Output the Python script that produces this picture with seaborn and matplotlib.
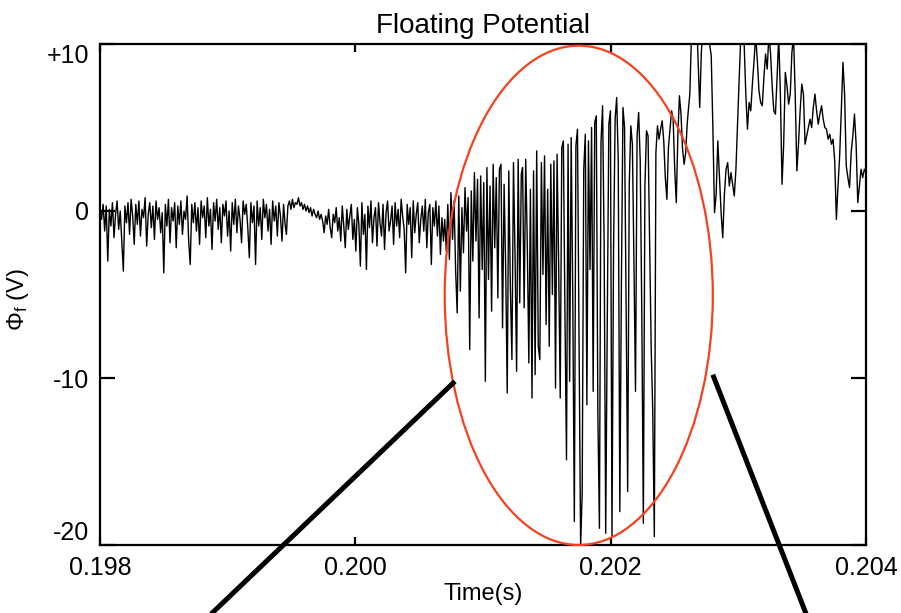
import numpy as np
import pandas as pd
import matplotlib
matplotlib.use("Agg")
import matplotlib.pyplot as plt
from matplotlib.patches import Ellipse
import seaborn as sns

# ---------------- data ----------------
# segment time bounds (s)
seg1_span = (0.19800, 0.19945)
seg2_span = (0.19946, 0.20069)
seg3_span = (0.20070, 0.20130)
seg4_span = (0.20131, 0.20260)
seg5_span = (0.20262, 0.20400)

# floating potential (V), quiet noisy phase
seg1 = [0.2, -0.5, 0.4, -1.2, 0.3, -3.0, 0.1, -0.9, 0.5, -1.6,
        -0.2, 0.6, -1.1, 0.0, -1.8, -3.6, 0.3, -0.7, 0.5, -1.4,
        0.7, -0.3, -2.0, 0.4, -0.8, 0.6, -1.5, 0.1, -0.4, 0.8,
        -2.1, -0.2, 0.5, -1.0, 0.3, -1.7, 0.6, -0.5, 0.2, -1.3,
        -0.1, -3.7, 0.4, -0.9, 0.7, -1.9, 0.2, -0.6, 0.5, -2.2,
        0.3, -0.8, 0.6, -1.4, 0.0, -0.5, 0.9, -1.8, -3.2, 0.4,
        -0.7, 0.5, -1.2, 0.2, -2.0, 0.6, -0.4, 0.3, -1.6, 0.8,
        -0.9, 0.1, -2.3, 0.5, -0.6, 0.7, -1.1, 0.2, -1.9, 0.4,
        -0.3, 0.6, -1.5, 0.0, -2.4, 0.5, -0.8, 0.7, -1.3, 0.3,
        -0.5, -1.9, 0.6, -0.2, 0.4, -1.0, -2.8, 0.5, -0.7, 0.3,
        -3.2, 0.6, -0.9, 0.2, -1.7, 0.7, -0.4, 0.4, -1.2, 0.1,
        -2.0, 0.6, -0.6, 0.3, -1.5, 0.5, -0.3, -1.8, 0.4, -0.8]

seg2 = [-1.4, 0.3, 0.6, 0.1, 0.7, 0.2, 0.5, 0.4, 0.8, 0.3,
        0.5, 0.1, 0.4, 0.0, 0.3, -0.1, 0.2, -0.3, 0.1, -0.2,
        -0.4, 0.0, -0.5, -0.2, -0.6, -1.3, -0.3, -0.8, 0.1, -1.0,
        -1.6, -0.2, -0.7, 0.2, -1.2, -0.4, -1.8, 0.3, -0.9, -2.2,
        0.1, -1.1, -0.3, 0.4, -1.7, -0.5, -2.4, 0.2, -0.8, -3.3,
        0.5, -1.4, -0.2, -3.5, 0.3, -1.0, 0.6, -1.9, -0.4, 0.2,
        -2.1, 0.5, -0.7, -1.5, 0.4, -2.3, -0.1, 0.6, -1.2, -0.6,
        0.3, -2.0, 0.5, -0.9, 0.1, -1.6, 0.7, -0.3, -1.1, -3.7,
        0.4, -0.8, 0.2, -2.8, 0.6, -1.3, -0.2, 0.5, -1.9, -0.5,
        0.3, -1.2, 0.7, -2.2, -0.1, 0.4, -3.2, 0.2, -0.9, 0.6,
        -1.5, 0.3, -2.6, -0.4, -1.8]

# onset of the large fluctuations
seg3 = [-0.5, -2.4, 0.4, -2.9, 1.1, -1.7, 0.6, -3.6, -6.1, 0.9,
        -4.8, 0.2, -2.5, 1.4, -1.2, 0.8, -8.3, 1.2, -3.0, 2.3,
        -1.8, 1.9, -6.4, 2.1, -3.5, 1.7, -10.2, 2.6, -4.1, 1.5,
        -6.0, 2.8, -2.2, 2.0, -5.2, 2.5, 2.8, -7.0, 1.6, -3.4,
        -10.9, 2.4, -4.6, -8.9, 2.9, -2.7, -9.6, 3.1, -5.5, 2.2]

# strong oscillations reaching -20 V
seg4 = [2.6, -5.8, 3.1, -2.0, -9.1, 1.3, -11.2, 2.4, -9.8, 3.6,
        -8.1, -8.9, 2.9, -3.8, 3.3, -6.8, 1.3, -8.1, 2.8, -5.0,
        3.0, -10.6, 3.4, -3.2, -11.2, 3.8, 4.2, -6.0, -14.9, 4.0,
        -10.2, 4.4, -5.2, -18.6, 3.9, 4.9, -8.0, -20.1, -16.9, 2.5,
        4.6, -11.6, 4.2, -3.5, 5.0, -10.8, 5.3, 5.7, -12.2, -19.0,
        4.1, 6.3, -2.0, -19.3, -6.6, 5.2, 6.0, -19.5, -2.3, 5.5,
        6.8, 3.0, -18.0, -4.5, 6.2, 5.0, -5.5, -16.8, 1.5, 5.1,
        4.0, -3.0, -10.8, 4.5, 5.9, 3.0, -6.0, -18.7, 1.5, 4.8,
        4.5, -2.0, -8.2, -12.0, -19.5, 3.5, 5.1, 4.3, 4.9, 5.4,
        4.2, 2.0, 0.7, 3.8, 4.9, 6.0, 5.5, 2.5, 0.5, 4.5,
        6.9, 5.8, 3.7, 2.8, 3.5, 5.3]

# positive, partly saturated phase
seg5 = [7.0, 10.5, 12.0, 11.0, 12.0, 9.0, 6.2, 9.5, 11.0, 12.0,
        10.5, 11.0, 10.0, 9.3, 5.0, -0.1, 1.0, 4.2, 2.0, -0.1,
        -1.6, 1.0, 2.5, 2.9, 1.5, 2.3, 1.6, 0.9, 2.5, 5.3,
        8.0, 10.5, 11.0, 10.0, 7.0, 4.9, 6.5, 6.0, 7.6, 9.0,
        10.5, 9.0, 7.2, 6.5, 6.3, 8.0, 9.4, 8.5, 10.5, 9.5,
        7.5, 6.0, 5.8, 8.0, 10.5, 7.0, 1.6, 4.0, 8.3, 7.5,
        6.4, 7.0, 9.5, 10.5, 7.0, 2.4, 4.0, 6.0, 7.6, 7.0,
        4.0, 4.5, 5.0, 5.5, 5.0, 6.2, 7.0, 6.0, 5.2, 5.8,
        6.3, 5.5, 5.0, 4.9, 4.3, 4.6, 4.0, 4.3, 3.0, -0.5,
        1.5, 3.3, 6.0, 8.9, 7.0, 2.7, 2.0, 1.4, 3.5, 4.5,
        5.8, 4.0, 0.5, 1.5, 2.5, 2.0, 2.5, 2.3]

x_ticks = [0.198, 0.200, 0.202, 0.204]
x_ticklabels = ["0.198", "0.200", "0.202", "0.204"]
y_ticks = [10, 0, -10, -20]
y_ticklabels = ["+10", "0", "-10", "-20"]

# highlighted region (ellipse) and zoom guide lines, in data units
ellipse_center = (0.20175, -5.05)
ellipse_size = (0.00210, 29.9)
guide_left = ([0.20078, 0.19882], [-10.2, -24.5])
guide_right = ([0.20280, 0.20355], [-9.8, -24.5])

segments = [(seg1_span, seg1), (seg2_span, seg2), (seg3_span, seg3),
            (seg4_span, seg4), (seg5_span, seg5)]
t = np.concatenate([np.linspace(s[0], s[1], len(v)) for s, v in segments])
phi = np.concatenate([np.asarray(v, float) for _, v in segments])
df = pd.DataFrame({"t": t, "phi": phi})

# ---------------- style ----------------
sns.set_theme(style="ticks")
plt.rcParams["font.family"] = ["Liberation Sans", "DejaVu Sans"]
plt.rcParams["text.color"] = "black"
plt.rcParams["axes.labelcolor"] = "black"
plt.rcParams["mathtext.fontset"] = "custom"
plt.rcParams["mathtext.rm"] = "Liberation Sans"
plt.rcParams["mathtext.it"] = "Liberation Sans:italic"

fig = plt.figure(figsize=(9.01, 6.13), dpi=100)
ax = fig.add_axes([100 / 901, 68 / 613, 766 / 901, 501 / 613])

sns.lineplot(data=df, x="t", y="phi", ax=ax, color="black", linewidth=1.0,
             estimator=None, sort=False)

ax.set_xlim(0.198, 0.204)
ax.set_ylim(-20, 10)
ax.set_xticks(x_ticks)
ax.set_xticklabels(x_ticklabels)
ax.set_yticks(y_ticks)
ax.set_yticklabels(y_ticklabels)
ylabs = ax.get_yticklabels()
ylabs[0].set_verticalalignment("top")
ylabs[-1].set_verticalalignment("bottom")

for sp in ax.spines.values():
    sp.set_visible(True)
    sp.set_linewidth(1.6)
    sp.set_color("black")
ax.tick_params(axis="both", direction="in", colors="black", labelcolor="black",
               labelsize=18, width=1.6, top=True, right=True, pad=8)
ax.tick_params(axis="x", length=6)
ax.tick_params(axis="y", length=11)

ax.set_xlabel("Time(s)", fontsize=17, labelpad=2, color="black")
ax.set_ylabel(r"$\Phi_{\rm f}$ (V)", fontsize=17, color="black")
ax.yaxis.set_label_coords(-0.090, 0.49)
ax.set_title("Floating Potential", fontsize=20, pad=8, color="black")

ell = Ellipse(ellipse_center, ellipse_size[0], ellipse_size[1], fill=False,
              edgecolor="#f4411e", linewidth=1.6, clip_on=False, zorder=5)
ax.add_patch(ell)
for gx, gy in (guide_left, guide_right):
    ax.plot(gx, gy, color="black", linewidth=3.6, clip_on=False,
            solid_capstyle="butt", zorder=6)

fig.savefig("out.png", dpi=100)
